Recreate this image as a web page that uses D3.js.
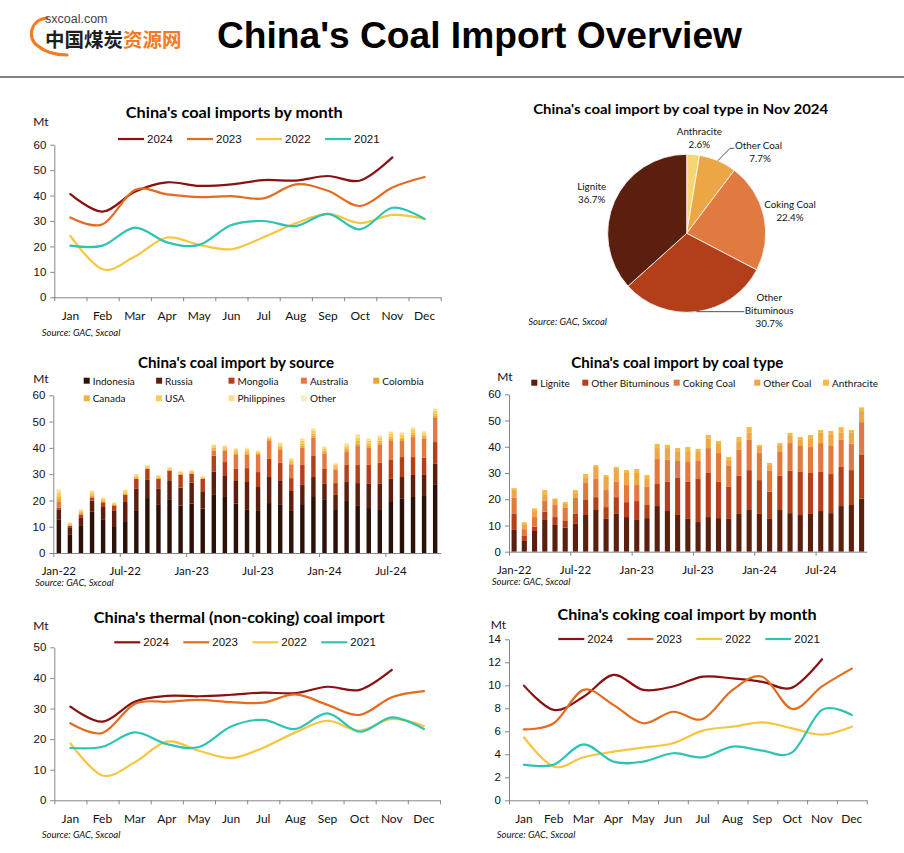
<!DOCTYPE html>
<html><head><meta charset="utf-8"><title>China's Coal Import Overview</title>
<script src="https://cdn.jsdelivr.net/npm/d3@7/dist/d3.min.js"></script>
<style>html,body{margin:0;padding:0;background:#fff;} svg{display:block;}</style>
</head><body>
<svg id="chart" width="904" height="853"></svg>
<script>
// ---------------- DATA ----------------
const months = ["Jan","Feb","Mar","Apr","May","Jun","Jul","Aug","Sep","Oct","Nov","Dec"];
const years = ["2024","2023","2022","2021"];

// China's coal imports by month (Mt)
const imp2024 = [40.6,33.7,41.5,45.2,43.8,44.4,46.1,45.9,47.7,45.9,55.0];
const imp2023 = [31.4,28.7,42.2,40.5,39.4,39.8,38.9,44.4,41.9,35.9,43.2,47.3];
const imp2022 = [24.1,11.0,16.0,23.5,20.6,18.9,23.6,29.1,32.8,29.2,32.4,30.9];
const imp2021 = [20.3,20.3,27.4,21.6,20.6,28.4,30.0,28.0,32.8,26.7,35.2,30.8];

// Thermal (non-coking) coal import (Mt)
const th2024 = [30.6,25.7,32.2,34.1,34.0,34.5,35.2,35.0,37.1,36.1,42.6];
const th2023 = [25.2,22.0,31.5,32.2,32.8,32.1,31.9,34.6,31.2,27.9,33.7,35.7];
const th2022 = [18.6,8.1,12.4,19.2,16.2,13.8,17.2,22.2,26.0,22.8,26.6,24.3];
const th2021 = [17.1,17.5,22.2,18.4,17.4,24.1,26.3,23.3,28.4,22.4,27.1,23.3];

// Coking coal import (Mt)
const ck2024 = [9.97,7.86,9.0,10.9,9.6,9.9,10.75,10.6,10.3,9.8,12.26];
const ck2023 = [6.17,6.7,9.6,8.3,6.7,7.7,7.07,9.6,10.75,7.94,9.9,11.45];
const ck2022 = [5.48,2.93,3.74,4.23,4.58,4.96,6.06,6.4,6.78,6.26,5.71,6.4];
const ck2021 = [3.1,3.1,4.87,3.36,3.36,4.09,3.74,4.67,4.32,4.17,7.86,7.42];

// Pie: coal type, Nov 2024 (%)
const pieNames = ["Anthracite","Other Coal","Coking Coal","Other Bituminous","Lignite"];
const pieValues = [2.6,7.7,22.4,30.7,36.7];

// Monthly bars Jan-22 .. Nov-24
const barMonths = ["Jan-22","Feb-22","Mar-22","Apr-22","May-22","Jun-22","Jul-22","Aug-22","Sep-22","Oct-22","Nov-22","Dec-22",
  "Jan-23","Feb-23","Mar-23","Apr-23","May-23","Jun-23","Jul-23","Aug-23","Sep-23","Oct-23","Nov-23","Dec-23",
  "Jan-24","Feb-24","Mar-24","Apr-24","May-24","Jun-24","Jul-24","Aug-24","Sep-24","Oct-24","Nov-24"];
const barTickLabels = ["Jan-22","Jul-22","Jan-23","Jul-23","Jan-24","Jul-24"];

// By source (Mt)
const sourceNames = ["Indonesia","Russia","Mongolia","Australia","Colombia","Canada","USA","Philippines","Other"];
const indonesia = [12.6,6.9,10.3,15.7,12.6,9.9,11.8,16.0,20.9,18.3,20.2,18.0,18.8,16.9,22.1,21.3,18.8,16.4,16.0,19.0,18.3,16.0,18.6,21.3,20.2,16.7,19.8,17.9,17.1,16.7,19.4,20.6,21.3,21.7,25.9];
const russia = [3.8,2.9,3.0,4.2,4.9,6.1,7.6,8.4,6.9,6.1,7.2,6.9,8.0,6.3,8.8,8.0,8.6,10.6,9.1,9.9,9.1,7.6,7.3,7.6,6.1,5.4,7.2,8.7,9.2,9.6,8.8,8.3,8.4,8.0,8.0];
const mongolia = [0.9,0.5,1.2,1.1,1.8,2.1,2.7,3.8,4.2,3.8,3.8,4.8,3.3,5.0,6.1,5.3,4.6,5.3,5.7,6.9,6.9,4.9,7.6,8.0,5.7,4.5,6.5,6.9,7.2,8.0,7.2,7.6,6.8,6.5,8.3];
const australia = [2.1,0.2,0.3,0.3,0,0,0,0,0,0,0,0,0.2,0,1.9,4.3,5.3,5.0,6.5,6.8,4.9,5.0,6.5,6.9,5.7,5.0,4.9,7.2,6.5,6.8,7.2,6.1,7.6,7.2,9.2];
const colombia = [1.2,0.3,0.5,0.6,0.4,0.3,0.5,0.4,0.3,0.3,0.3,0.3,0.3,0.2,0.6,0.5,0.6,0.6,0.4,0.4,0.7,0.6,0.9,0.9,0.7,0.6,0.8,1.0,0.9,0.9,0.9,0.8,0.9,0.7,0.9];
const canada = [1.0,0.3,0.4,0.5,0.4,0.3,0.4,0.4,0.3,0.3,0.3,0.3,0.2,0.2,0.5,0.4,0.5,0.5,0.4,0.4,0.6,0.5,0.7,0.7,0.6,0.5,0.7,0.9,0.7,0.7,0.7,0.6,0.7,0.6,0.7];
const usa = [1.3,0.3,0.5,0.7,0.5,0.3,0.6,0.6,0.5,0.5,0.5,0.5,0.4,0.4,0.7,0.6,0.8,0.8,0.5,0.5,0.8,0.8,1.1,1.1,0.8,0.8,1.0,1.3,1.1,1.1,1.1,1.0,1.1,0.8,1.1];
const philippines = [1.0,0.2,0.4,0.5,0.4,0.2,0.4,0.4,0.3,0.3,0.3,0.3,0.3,0.2,0.6,0.5,0.6,0.6,0.4,0.4,0.6,0.6,0.8,0.8,0.6,0.6,0.7,1.0,0.8,0.8,0.8,0.7,0.9,0.6,0.8];
const otherSrc = [0.5,0.1,0.1,0.2,0.1,0.1,0.2,0.1,0.1,0.1,0.1,0.1,0.1,0.1,0.2,0.2,0.2,0.3,0.2,0.2,0.3,0.2,0.3,0.3,0.3,0.2,0.3,0.4,0.3,0.3,0.3,0.3,0.3,0.3,0.3];

// By coal type (Mt)
const typeNames = ["Lignite","Other Bituminous","Coking Coal","Other Coal","Anthracite"];
const lignite = [8.3,4.1,7.9,12.1,10.2,9.2,10.6,14.0,15.9,12.5,14.4,13.2,12.1,12.8,17.4,15.5,14.0,12.5,11.3,13.2,12.8,12.5,14.4,15.9,14.4,12.5,15.9,14.7,14.0,14.4,15.5,14.7,17.4,17.8,20.2];
const otherBit = [6.3,1.9,1.6,3.2,3.0,2.5,3.8,5.7,4.9,4.5,6.4,5.7,7.2,5.0,8.4,11.1,14.1,14.1,16.4,16.8,13.8,12.2,14.5,15.2,12.9,10.3,13.0,16.1,16.4,15.6,14.9,14.9,14.9,13.3,16.9];
const cokingType = [5.9,2.6,3.7,4.0,4.6,5.0,6.1,6.5,6.9,6.5,5.8,6.5,6.1,6.9,9.5,8.4,6.5,7.6,6.9,9.5,11.0,8.0,9.9,11.5,10.3,8.0,9.1,10.6,9.9,9.9,11.0,10.7,10.3,10.0,12.3];
const otherCoal = [3.3,1.6,2.3,2.3,1.9,1.5,1.5,1.9,4.6,5.0,4.9,4.6,4.6,3.0,4.2,4.5,3.4,3.8,3.4,3.5,3.5,1.9,3.0,2.9,2.3,2.2,2.3,2.7,2.3,3.4,3.9,4.2,2.7,4.2,4.2];
const anthracite = [0.4,1.0,1.0,1.9,0.6,0.7,1.5,1.5,0.7,0.7,0.8,1.1,1.5,1.5,1.6,1.2,1.5,1.9,1.2,1.5,1.1,1.5,1.9,2.0,0.8,0.8,1.1,1.2,1.1,1.2,1.1,1.5,2.2,1.1,1.4];

// ---------------- STYLE ----------------
const CAL = "Lato, 'Open Sans', sans-serif";
const ARL = "'Liberation Sans', Arial, sans-serif";
const AX = "#868686";
const yearColors = ["#8a1111","#e46c1e","#f8c53e","#2ec4b4"];
const sourceColors = ["#2c1108","#5c1f0d","#b4401a","#e07a42","#eea33a","#f2b33c","#f8cd55","#fadd8e","#fcecc3"];
const typeColors = ["#5b1f0d","#b4401b","#e07a40","#eea646","#f4ba44"];
const pieColors = ["#f6d672","#eca646","#e07a40","#b33f1a","#5a1f0e"];

const svg = d3.select("#chart");

// ---------------- HEADER ----------------
svg.append("path").attr("d","M47,18 C31,19 26,38 38,46 C45,52 56,55 67,55")
  .attr("fill","none").attr("stroke","#f47b20").attr("stroke-width",3.2).attr("stroke-linecap","round");
svg.append("text").attr("x",45).attr("y",22.5).attr("font-family",ARL).attr("font-size",12.5).attr("fill","#444").text("sxcoal.com");
const cn = svg.append("text").attr("x",45).attr("y",47).attr("font-family","'Noto Sans CJK SC', sans-serif")
  .attr("font-weight","bold").attr("font-size",19.5);
cn.append("tspan").attr("fill","#1e1e1e").text("中国煤炭");
cn.append("tspan").attr("fill","#f47b20").text("资源网");
svg.append("text").attr("x",217).attr("y",48).attr("font-family",ARL).attr("font-weight","bold")
  .attr("font-size",36).attr("textLength",525).attr("lengthAdjust","spacingAndGlyphs").attr("fill","#000")
  .text("China's Coal Import Overview");
svg.append("rect").attr("x",0).attr("y",76).attr("width",904).attr("height",2).attr("fill","#808080");

// ---------------- HELPERS ----------------
function title(txt, cx, cy, size, len) {
  svg.append("text").attr("x",cx).attr("y",cy).attr("text-anchor","middle").attr("dominant-baseline","central")
    .attr("font-family",CAL).attr("font-weight","bold").attr("font-size",size)
    .attr("textLength",len).attr("lengthAdjust","spacingAndGlyphs").attr("fill","#000").text(txt);
}
function source(x, y) {
  svg.append("text").attr("x",x).attr("y",y).attr("dominant-baseline","central")
    .attr("font-family",CAL).attr("font-style","italic").attr("font-size",9.5).attr("fill","#111")
    .text("Source: GAC, Sxcoal");
}
function mt(x, y) {
  svg.append("text").attr("x",x).attr("y",y).attr("dominant-baseline","central")
    .attr("font-family",CAL).attr("font-size",12).attr("fill","#111").text("Mt");
}
function styleAxis(sel, size) {
  sel.select(".domain").attr("stroke",AX);
  sel.selectAll(".tick line").attr("stroke",AX);
  sel.selectAll(".tick text").attr("font-family",ARL).attr("font-size",size || 11.5).attr("fill","#111");
}

function lineChart(o) {
  const g = svg.append("g");
  const x = d3.scaleBand().domain(months).range([o.x0, o.x1]);
  const y = d3.scaleLinear().domain([0, o.max]).range([o.yb, o.yt]);
  const ya = g.append("g").attr("transform",`translate(${o.x0},0)`)
    .call(d3.axisLeft(y).tickValues(d3.range(0, o.max + 1e-9, o.step)).tickSize(4).tickSizeOuter(0).tickPadding(4));
  styleAxis(ya, 11.5);
  const xi = d3.scaleLinear().domain([0, months.length]).range([o.x0, o.x1]);
  const xa = g.append("g").attr("transform",`translate(0,${o.yb})`)
    .call(d3.axisBottom(xi).tickValues(d3.range(0, months.length + 1)).tickSize(4).tickSizeOuter(0).tickFormat(""));
  styleAxis(xa);
  g.selectAll("text.mlab").data(months).join("text").attr("class","mlab")
    .attr("x", d => x(d) + x.bandwidth()/2).attr("y", o.yb + 18)
    .attr("text-anchor","middle").attr("dominant-baseline","central")
    .attr("font-family",CAL).attr("font-size",12).attr("fill","#111").text(d => d);
  const line = d3.line().x((d,i) => x(months[i]) + x.bandwidth()/2).y(d => y(d)).curve(d3.curveCatmullRom.alpha(0));
  o.series.forEach((vals, i) => {
    g.append("path").datum(vals).attr("d", line).attr("fill","none")
      .attr("stroke", yearColors[i]).attr("stroke-width", 2.2).attr("stroke-linecap","round");
  });
  years.forEach((yr, i) => {
    const lx = o.legendX + i * 69;
    g.append("line").attr("x1", lx).attr("x2", lx + 26).attr("y1", o.legendY).attr("y2", o.legendY)
      .attr("stroke", yearColors[i]).attr("stroke-width", 2.2);
    g.append("text").attr("x", lx + 29).attr("y", o.legendY).attr("dominant-baseline","central")
      .attr("font-family",ARL).attr("font-size",11.5).attr("fill","#111").text(yr);
  });
}

function stackChart(o) {
  const g = svg.append("g");
  const x = d3.scaleBand().domain(barMonths).range([o.x0, o.x1]).paddingInner(o.pad).paddingOuter(o.pad/2);
  const y = d3.scaleLinear().domain([0, 60]).range([o.yb, o.yt]);
  const rows = barMonths.map((m, i) => { const r = {month: m}; o.keys.forEach((k, j) => r[k] = o.arrays[j][i]); return r; });
  const stacked = d3.stack().keys(o.keys)(rows);
  g.selectAll("g.layer").data(stacked).join("g").attr("class","layer").attr("fill", (d, i) => o.colors[i])
    .selectAll("rect").data(d => d).join("rect")
    .attr("x", d => x(d.data.month)).attr("width", x.bandwidth())
    .attr("y", d => y(d[1])).attr("height", d => Math.max(0, y(d[0]) - y(d[1])));
  const ya = g.append("g").attr("transform",`translate(${o.x0},0)`)
    .call(d3.axisLeft(y).tickValues(d3.range(0, 61, 10)).tickSize(4).tickSizeOuter(0).tickPadding(4));
  styleAxis(ya, 11.5);
  const xi = d3.scaleLinear().domain([0, barMonths.length]).range([o.x0, o.x1]);
  const xa = g.append("g").attr("transform",`translate(0,${o.yb})`)
    .call(d3.axisBottom(xi).tickValues(barTickLabels.map(l => barMonths.indexOf(l))).tickSize(4).tickSizeOuter(0).tickFormat(""));
  styleAxis(xa);
  g.selectAll("text.blab").data(barTickLabels).join("text").attr("class","blab")
    .attr("x", d => x(d) + x.bandwidth()/2).attr("y", o.yb + 17.5)
    .attr("text-anchor","middle").attr("dominant-baseline","central")
    .attr("font-family",CAL).attr("font-size",11.5).attr("fill","#111").text(d => d);
  o.keys.forEach((k, i) => {
    const p = o.legendPos(i);
    g.append("rect").attr("x", p[0] - 3).attr("y", p[1] - 3).attr("width", 6).attr("height", 6).attr("fill", o.colors[i]);
    g.append("text").attr("x", p[0] + 6).attr("y", p[1]).attr("dominant-baseline","central")
      .attr("font-family",CAL).attr("font-size",10).attr("fill","#111").text(k);
  });
}

// ---------------- CHART 1: imports by month ----------------
title("China's coal imports by month", 234.3, 111.7, 15, 217);
mt(33.3, 121.7);
lineChart({x0:54.3, x1:440.7, yb:297.3, yt:144.7, max:60, step:10, legendX:118, legendY:139,
  series:[imp2024, imp2023, imp2022, imp2021]});
source(41.7, 332);

// ---------------- CHART 2: pie ----------------
title("China's coal import by coal type in Nov 2024", 680.7, 108.3, 14, 295);
{
  const cx = 686.7, cy = 233.3, r = 79;
  const pg = svg.append("g").attr("transform",`translate(${cx},${cy})`);
  const arcs = d3.pie().sort(null).value(d => d)(pieValues);
  const arc = d3.arc().innerRadius(0).outerRadius(r);
  pg.selectAll("path").data(arcs).join("path").attr("d", arc)
    .attr("fill", (d, i) => pieColors[i]).attr("stroke","#fff").attr("stroke-width",0.8);
  // label layout (offsets from pie centre)
  const labelLines = [["Anthracite"],["Other Coal"],["Coking Coal"],["Other","Bituminous"],["Lignite"]];
  const labelPos = [[12.6,-102.3,"middle"],[48.3,-88.3,"start"],[103.3,-29,"middle"],[82.5,-36.3,"middle"],[-95,-47.3,"middle"]];
  labelLines.forEach((lines, i) => {
    const [dx, dy, anchor] = labelPos[i];
    let all = lines.concat([pieValues[i].toFixed(1) + "%"]);
    if (i === 3) { // Other Bituminous: lines stacked below the leader
      all.forEach((t, j) => pg.append("text").attr("x", dx).attr("y", 63.7 + j*12.9).attr("text-anchor","middle")
        .attr("dominant-baseline","central").attr("font-family",CAL).attr("font-size",9.8).attr("fill","#111").text(t));
      return;
    }
    all.forEach((t, j) => {
      const tx = (anchor === "start" && j > 0) ? dx + 25 : dx;
      pg.append("text").attr("x", tx).attr("y", dy + j*12.7)
        .attr("text-anchor", anchor === "start" && j > 0 ? "middle" : anchor)
        .attr("dominant-baseline","central").attr("font-family",CAL).attr("font-size",9.8).attr("fill","#111").text(t);
    });
  });
  // leader lines
  const edge = (a) => [Math.sin(a) * r, -Math.cos(a) * r];
  const oc = arcs[1], ob = arcs[3];
  const p1 = edge((oc.startAngle + oc.endAngle)/2);
  pg.append("polyline").attr("points", [p1, [43.3,-85], [47.5,-85]].map(p => p.join(",")).join(" "))
    .attr("fill","none").attr("stroke","#222").attr("stroke-width",0.8);
  const p3 = edge((ob.startAngle + ob.endAngle)/2);
  pg.append("polyline").attr("points", [p3, [57.6, p3[1]]].map(p => p.join(",")).join(" "))
    .attr("fill","none").attr("stroke","#222").attr("stroke-width",0.8);
}
source(528.3, 321);

// ---------------- CHART 3: by source ----------------
title("China's coal import by source", 236, 361.7, 15, 196);
mt(33.3, 378.3);
stackChart({x0:53.3, x1:440.7, yb:553, yt:395.3, pad:0.6, keys:sourceNames, colors:sourceColors,
  arrays:[indonesia, russia, mongolia, australia, colombia, canada, usa, philippines, otherSrc],
  legendPos: i => [86.7 + (i % 5) * 72.4, i < 5 ? 380.7 : 398.3]});
source(35, 582.3);

// ---------------- CHART 4: by coal type ----------------
title("China's coal import by coal type", 677.3, 361.7, 15, 212);
mt(497.3, 376);
{
  const lx = [534.3, 585.3, 676.7, 757.3, 826];
  stackChart({x0:509, x1:866.7, yb:551.7, yt:394.3, pad:0.5, keys:typeNames, colors:typeColors,
    arrays:[lignite, otherBit, cokingType, otherCoal, anthracite],
    legendPos: i => [lx[i], 382.7]});
}
source(491.7, 581);

// ---------------- CHART 5: thermal ----------------
title("China's thermal (non-coking)  coal import", 239.3, 617.3, 15, 291);
mt(33.3, 625);
lineChart({x0:54.3, x1:440, yb:800.3, yt:647.3, max:50, step:10, legendX:114.3, legendY:642.3,
  series:[th2024, th2023, th2022, th2021]});
source(41.7, 834);

// ---------------- CHART 6: coking ----------------
title("China's coking coal import by month", 687, 614, 15, 259);
mt(490.7, 624);
lineChart({x0:509, x1:866.7, yb:800.3, yt:639.3, max:14, step:2, legendX:558.3, legendY:639,
  series:[ck2024, ck2023, ck2022, ck2021]});
source(496.7, 834);
</script>
</body></html>
